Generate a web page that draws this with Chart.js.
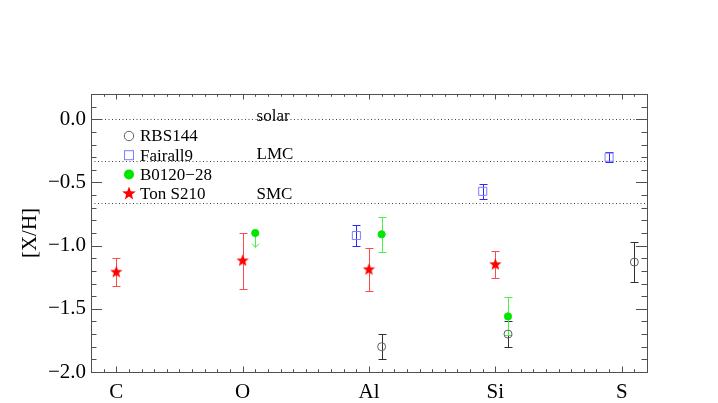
<!DOCTYPE html>
<html>
<head>
<meta charset="utf-8">
<script src="https://cdn.jsdelivr.net/npm/chart.js@4.4.1/dist/chart.umd.min.js"></script>
<style>
  html, body { margin: 0; padding: 0; background: #fff; }
  #wrap { width: 718px; height: 403px; }
</style>
</head>
<body>
<div id="wrap"><canvas id="chart" width="718" height="403"></canvas></div>
<script>
// Elements on the x axis
const elements = ['C', 'O', 'Al', 'Si', 'S'];
const yTickValues = [-2.0, -1.5, -1.0, -0.5, 0.0];

// [X/H] per element (null = no measurement) and 1-sigma errors
const rbs144 = [null, null, -1.80, -1.70, -1.13];
const rbs144Err = [null, null, 0.10, 0.10, 0.16];
const fairall9 = [null, null, -0.92, -0.57, -0.30];
const fairall9Err = [null, null, 0.08, 0.06, 0.04];
const b0120 = [null, -0.90, -0.91, -1.56, null];
const b0120Err = [null, null, 0.14, 0.15, null];
const b0120UpperLimit = [false, true, false, false, false];
const tonS210 = [-1.21, -1.12, -1.19, -1.15, null];
const tonS210Err = [0.11, 0.22, 0.17, 0.11, null];

// Reference abundance levels
const refLevels = [0.0, -0.33, -0.66];
const refLabels = ['solar', 'LMC', 'SMC'];

const seriesNames = ['RBS144', 'Fairall9', 'B0120\u221228', 'Ton S210'];

const FONT = "'Liberation Serif', 'Times New Roman', serif";
const FRAME = '#505050';

/**
 * Build a canvas with a filled five-point star (used as point style)
 */
function starPath(ctx, cx, cy, r) {
  const inner = r * 0.42;
  ctx.beginPath();
  for (let i = 0; i < 10; i++) {
    const rad = i % 2 === 0 ? r : inner;
    const a = -Math.PI / 2 + i * Math.PI / 5;
    const px = cx + rad * Math.cos(a);
    const py = cy + rad * Math.sin(a);
    if (i === 0) ctx.moveTo(px, py); else ctx.lineTo(px, py);
  }
  ctx.closePath();
}

function makeStar(r, color) {
  const c = document.createElement('canvas');
  const s = Math.ceil(r * 2 + 2);
  c.width = s;
  c.height = s;
  const ctx = c.getContext('2d');
  starPath(ctx, s / 2, s / 2, r);
  ctx.fillStyle = color;
  ctx.fill();
  return c;
}

function toPoints(values, errs, offset, limits) {
  const pts = [];
  values.forEach((v, i) => {
    if (v === null) return;
    pts.push({ x: i + offset, y: v, err: errs[i], limit: limits ? limits[i] : false });
  });
  return pts;
}

const datasets = [{
  label: seriesNames[0],
  data: toPoints(rbs144, rbs144Err, 0.1),
  pointStyle: 'circle',
  pointRadius: 4,
  borderColor: '#606060',
  backgroundColor: 'rgba(0,0,0,0)',
  borderWidth: 1,
  barColor: '#303030'
}, {
  label: seriesNames[1],
  data: toPoints(fairall9, fairall9Err, -0.1),
  pointStyle: 'rect',
  pointRadius: 5.7,
  borderColor: '#7c7cff',
  backgroundColor: 'rgba(0,0,0,0)',
  borderWidth: 1,
  barColor: '#2a2aff'
}, {
  label: seriesNames[2],
  data: toPoints(b0120, b0120Err, 0.1, b0120UpperLimit),
  pointStyle: 'circle',
  pointRadius: 3.6,
  borderColor: '#00e600',
  backgroundColor: '#00e600',
  borderWidth: 1,
  barColor: '#4cf04c'
}, {
  label: seriesNames[3],
  data: toPoints(tonS210, tonS210Err, 0),
  pointStyle: makeStar(6.5, '#ff0000'),
  pointRadius: 6,
  borderColor: '#ff0000',
  backgroundColor: '#ff0000',
  barColor: '#ff4a4a'
}];

/**
 * Error bars, reference lines, frame with inward ticks and legend
 */
const decorPlugin = {
  id: 'decor',
  beforeDatasetsDraw(chart) {
    const { ctx, chartArea: a, scales: { x, y } } = chart;
    ctx.save();

    // dotted reference levels
    ctx.strokeStyle = '#404040';
    ctx.lineWidth = 1;
    ctx.setLineDash([1, 2.5]);
    const labelShift = [1, -3, -5];
    refLevels.forEach((lvl, i) => {
      const py = Math.round(y.getPixelForValue(lvl)) + 0.5;
      ctx.beginPath();
      ctx.moveTo(a.left, py);
      ctx.lineTo(a.right, py);
      ctx.stroke();
      ctx.fillStyle = '#000';
      ctx.font = `17px ${FONT}`;
      ctx.textBaseline = 'alphabetic';
      ctx.textAlign = 'left';
      ctx.fillText(refLabels[i], x.getPixelForValue(1.11), py + labelShift[i]);
    });
    ctx.setLineDash([]);

    // error bars
    chart.data.datasets.forEach(ds => {
      ctx.strokeStyle = ds.barColor;
      ctx.lineWidth = 1;
      ds.data.forEach(p => {
        const px = Math.round(x.getPixelForValue(p.x)) + 0.5;
        if (p.limit) {
          const y0 = y.getPixelForValue(p.y);
          const y1 = y.getPixelForValue(p.y - 0.115);
          ctx.beginPath();
          ctx.moveTo(px, y0);
          ctx.lineTo(px, y1);
          ctx.moveTo(px - 3.5, y1 - 4);
          ctx.lineTo(px, y1);
          ctx.lineTo(px + 3.5, y1 - 4);
          ctx.stroke();
          return;
        }
        if (p.err === null || p.err === undefined) return;
        const top = Math.round(y.getPixelForValue(p.y + p.err)) + 0.5;
        const bot = Math.round(y.getPixelForValue(p.y - p.err)) + 0.5;
        ctx.beginPath();
        ctx.moveTo(px, top);
        ctx.lineTo(px, bot);
        ctx.moveTo(px - 4, top);
        ctx.lineTo(px + 4, top);
        ctx.moveTo(px - 4, bot);
        ctx.lineTo(px + 4, bot);
        ctx.stroke();
      });
    });
    ctx.restore();
  },
  afterDatasetsDraw(chart) {
    const { ctx, chartArea: a, scales: { x, y } } = chart;
    ctx.save();
    ctx.strokeStyle = FRAME;
    ctx.lineWidth = 1;

    // frame
    ctx.strokeRect(Math.round(a.left) + 0.5, Math.round(a.top) + 0.5,
      Math.round(a.right - a.left), Math.round(a.bottom - a.top));

    ctx.beginPath();
    // x ticks every 0.1, major at each element
    for (let k = -2; k <= 42; k++) {
      const px = Math.round(x.getPixelForValue(k / 10)) + 0.5;
      const len = k % 10 === 0 ? 5.5 : 2.8;
      ctx.moveTo(px, a.bottom);
      ctx.lineTo(px, a.bottom - len);
      ctx.moveTo(px, a.top);
      ctx.lineTo(px, a.top + len);
    }
    // y ticks every 0.1, major every 0.5
    for (let k = -20; k <= 2; k++) {
      const py = Math.round(y.getPixelForValue(k / 10)) + 0.5;
      const len = k % 5 === 0 ? 11 : 5.5;
      ctx.moveTo(a.left, py);
      ctx.lineTo(a.left + len, py);
      ctx.moveTo(a.right, py);
      ctx.lineTo(a.right - len, py);
    }
    ctx.stroke();

    // legend in the upper left corner
    const lx = a.left + 38;
    const tx = a.left + 49;
    ctx.font = `17px ${FONT}`;
    ctx.textAlign = 'left';
    ctx.textBaseline = 'middle';
    chart.data.datasets.forEach((ds, i) => {
      const ly = a.top + 42 + i * 19.2;
      ctx.lineWidth = 1;
      if (i === 0) {
        ctx.strokeStyle = ds.borderColor;
        ctx.beginPath();
        ctx.arc(lx, ly, 4.7, 0, Math.PI * 2);
        ctx.stroke();
      } else if (i === 1) {
        ctx.strokeStyle = ds.borderColor;
        ctx.strokeRect(lx - 4.5, ly - 4.5, 9, 9);
      } else if (i === 2) {
        ctx.fillStyle = ds.backgroundColor;
        ctx.beginPath();
        ctx.arc(lx, ly, 5, 0, Math.PI * 2);
        ctx.fill();
      } else {
        ctx.fillStyle = ds.backgroundColor;
        starPath(ctx, lx, ly, 7.2);
        ctx.fill();
      }
      ctx.fillStyle = '#000';
      ctx.fillText(ds.label, tx, ly + 1);
    });
    ctx.restore();
  }
};

new Chart(document.getElementById('chart'), {
  type: 'scatter',
  data: { datasets },
  options: {
    responsive: false,
    animation: false,
    devicePixelRatio: 1,
    layout: { padding: { top: 94, right: 71, left: 0, bottom: 0 } },
    plugins: {
      legend: { display: false },
      tooltip: { enabled: false }
    },
    scales: {
      x: {
        type: 'linear',
        min: -0.2,
        max: 4.2,
        afterBuildTicks: scale => {
          scale.ticks = elements.map((e, i) => ({ value: i }));
        },
        afterFit: scale => { scale.height = 31; },
        grid: { display: false, drawTicks: false },
        border: { display: false },
        ticks: {
          padding: 8,
          color: '#000',
          font: { family: FONT, size: 21 },
          maxRotation: 0,
          callback: v => elements[v]
        }
      },
      y: {
        min: -2.0,
        max: 0.2,
        afterBuildTicks: scale => {
          scale.ticks = yTickValues.map(v => ({ value: v }));
        },
        afterFit: scale => { scale.width = 91; },
        grid: { display: false, drawTicks: false },
        border: { display: false },
        title: {
          display: true,
          text: '[X/H]',
          color: '#000',
          font: { family: FONT, size: 21 },
          padding: { top: 18, bottom: 0 }
        },
        ticks: {
          padding: 5,
          color: '#000',
          font: { family: FONT, size: 21 },
          callback: v => v.toFixed(1).replace('-', '\u2212')
        }
      }
    }
  },
  plugins: [decorPlugin]
});
</script>
</body>
</html>
